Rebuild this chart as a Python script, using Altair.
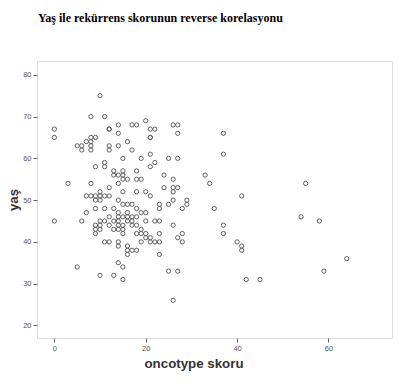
import altair as alt
import pandas as pd

# oncotype skoru (x) and yaş (y)
oncotype = [
    10,
    8, 11,
    20,
    14, 17, 18, 26, 27,
    0, 12, 12, 21, 22,
    14, 27, 37,
    0, 8, 9, 21, 21,
    7, 8, 16,
    5, 6, 8, 12, 14,
    6, 8, 12, 17,
    21, 37,
    15, 19, 25, 27,
    11, 22,
    9, 11, 21,
    13, 15, 18,
    13, 14, 15, 24, 33,
    15, 16, 18, 19, 26,
    3, 8, 14, 34, 55,
    12, 24, 26, 27,
    10, 15, 18, 20, 26,
    7, 8, 9, 10, 11, 12, 21, 41,
    9, 10, 14, 26, 29,
    15, 16, 17, 23, 25, 29,
    9, 11, 13, 18, 23, 28, 35,
    7, 14, 16, 19, 20,
    12, 14, 15, 16, 17, 18, 54,
    0, 6, 10, 11, 13, 14, 16, 17, 20, 22, 23, 58,
    9, 10, 12, 14, 15, 17, 18, 26, 37,
    9, 10, 13, 14, 15, 19,
    9, 15, 18, 19, 20, 23, 28, 37,
    20, 21, 27,
    11, 12, 14, 19, 21, 22, 23, 28, 40,
    14, 16, 41,
    16, 17, 18, 41,
    16, 23,
    64,
    14,
    5, 15,
    25, 27, 59,
    10, 13,
    15, 42, 45,
    26,
]
yas = [
    75,
    70, 70,
    69,
    68, 68, 68, 68, 68,
    67, 67, 67, 67, 67,
    66, 66, 66,
    65, 65, 65, 65, 65,
    64, 64, 64,
    63, 63, 63, 63, 63,
    62, 62, 62, 62,
    61, 61,
    60, 60, 60, 60,
    59, 59,
    58, 58, 58,
    57, 57, 57,
    56, 56, 56, 56, 56,
    55, 55, 55, 55, 55,
    54, 54, 54, 54, 54,
    53, 53, 53, 53,
    52, 52, 52, 52, 52,
    51, 51, 51, 51, 51, 51, 51, 51,
    50, 50, 50, 50, 50,
    49, 49, 49, 49, 49, 49,
    48, 48, 48, 48, 48, 48, 48,
    47, 47, 47, 47, 47,
    46, 46, 46, 46, 46, 46, 46,
    45, 45, 45, 45, 45, 45, 45, 45, 45, 45, 45, 45,
    44, 44, 44, 44, 44, 44, 44, 44, 44,
    43, 43, 43, 43, 43, 43,
    42, 42, 42, 42, 42, 42, 42, 42,
    41, 41, 41,
    40, 40, 40, 40, 40, 40, 40, 40, 40,
    39, 39, 39,
    38, 38, 38, 38,
    37, 37,
    36,
    35,
    34, 34,
    33, 33, 33,
    32, 32,
    31, 31, 31,
    26,
]

x_ticks = [0, 20, 40, 60]
y_ticks = [20, 30, 40, 50, 60, 70, 80]

df = pd.DataFrame({"oncotype": oncotype, "yas": yas})

chart = (
    alt.Chart(df)
    .mark_point(shape="circle", filled=False, size=18, strokeWidth=1, color="#5e5e5e", opacity=1)
    .encode(
        x=alt.X(
            "oncotype:Q",
            scale=alt.Scale(domain=[-3.8, 73.9], nice=False, zero=False),
            axis=alt.Axis(
                values=x_ticks,
                title="oncotype skoru",
                titleX=156.5,
                titleY=29,
                titleAlign="center",
                titleBaseline="alphabetic",
                titleFont="Liberation Sans",
                titleFontSize=13.3,
                titleFontWeight="bold",
                titleColor="#333333",
                labelFont="Liberation Sans",
                labelFontSize=7.5,
                labelColor="#555555",
                labelPadding=2,
                tickSize=4,
                tickColor="#666666",
                domain=False,
                grid=False,
            ),
        ),
        y=alt.Y(
            "yas:Q",
            scale=alt.Scale(domain=[17, 83.3], nice=False, zero=False),
            axis=alt.Axis(
                values=y_ticks,
                title="yaş",
                titleX=-24,
                titleY=138.5,
                titleAngle=-90,
                titleAlign="center",
                titleBaseline="middle",
                titleFont="Liberation Sans",
                titleFontSize=13.3,
                titleFontWeight="bold",
                titleColor="#333333",
                labelFont="Liberation Sans",
                labelFontSize=7.5,
                labelColor="#555555",
                labelPadding=2,
                tickSize=4,
                tickColor="#666666",
                domain=False,
                grid=False,
            ),
        ),
    )
    .properties(
        width=355,
        height=277,
        autosize=alt.AutoSizeParams(type="none"),
        padding={"left": 37, "top": 61, "right": 15, "bottom": 51},
        title=alt.TitleParams(
            "Yaş ile rekürrens skorunun reverse korelasyonu",
            anchor="start",
            frame="group",
            font="Liberation Serif",
            fontSize=12,
            fontWeight="bold",
            color="#000000",
            baseline="alphabetic",
            offset=27,
            dx=1,
        ),
    )
    .configure_view(fill="#efefef", stroke="#7a7a7a", strokeWidth=1)
    .configure(background="white")
)

chart.save("out.html", embed_options={"renderer": "svg", "actions": False})
